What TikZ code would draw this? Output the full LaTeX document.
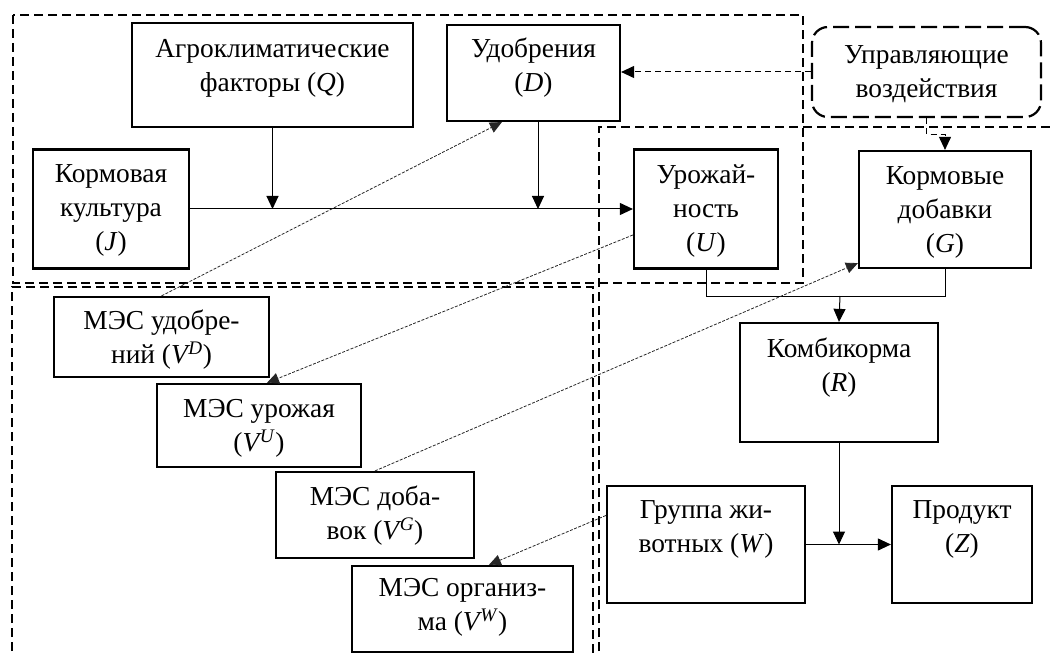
\documentclass[tikz,border=0pt]{standalone}
\usepackage{fontspec}
\setmainfont{Liberation Serif}
\usetikzlibrary{arrows.meta,calc}
\begin{document}
\begin{tikzpicture}[x=1pt,y=-1pt,
  box/.style={draw,line width=2.2pt,rectangle,inner sep=0pt},
  txt/.style={align=center,inner sep=0pt,font=\fontsize{27.4}{34}\selectfont},
  region/.style={line width=2.2pt,dash pattern=on 9pt off 5pt},
  conn/.style={line width=1pt,-{Triangle[length=13pt,width=12pt]}},
  plain/.style={line width=1pt},
  ctrl/.style={line width=1pt,dash pattern=on 6pt off 4pt},
  dotc/.style={line width=0.8pt,dash pattern=on 3pt off 1.5pt,black!85,-{Triangle[length=12pt,width=11pt]}}
]
\useasboundingbox (0,0) rectangle (1055,655);
\clip (0,0) rectangle (1055,655);
% regions
\draw[region] (13,15) rectangle (803,283);
\draw[region] (599,665) -- (599,127) -- (1070,127);
\draw[region] (12,665) -- (12,287) -- (593,287) -- (593,665);
% boxes
\node[box,minimum width=281pt,minimum height=104pt] (Q) at (272.5,75) {};
\node[txt] (Qt) at (272.5,68) {Агроклиматические\\факторы (\textit{Q})};
\node[box,minimum width=173pt,minimum height=96pt] (D) at (533.5,73) {};
\node[txt] (Dt) at (533.5,68) {Удобрения\\(\textit{D})};
\node[box,minimum width=156pt,minimum height=119pt] (J) at (111,209) {};
\node[txt] (Jt) at (111,210) {Кормовая\\культура\\(\textit{J})};
\node[draw,line width=2.2pt,dash pattern=on 16pt off 6pt,rounded corners=16pt,minimum width=229pt,minimum height=90pt] (C) at (926.5,72) {};
\node[txt] (Ct) at (926.5,74) {Управляющие\\воздействия};
\node[box,minimum width=144pt,minimum height=119pt] (U) at (706,209) {};
\node[txt] (Ut) at (706,211) {Урожай-\\ность\\(\textit{U})};
\node[box,minimum width=172pt,minimum height=117pt] (G) at (945,209.5) {};
\node[txt] (Gt) at (945,212) {Кормовые\\добавки\\(\textit{G})};
\node[box,minimum width=198pt,minimum height=119pt] (R) at (839,382.5) {};
\node[txt] (Rt) at (839,368) {Комбикорма\\(\textit{R})};
\node[box,minimum width=198pt,minimum height=117pt] (W) at (706,544.5) {};
\node[txt] (Wt) at (706,529) {Группа жи-\\вотных (\textit{W})};
\node[box,minimum width=140pt,minimum height=117pt] (Z) at (962,544.5) {};
\node[txt] (Zt) at (962,529) {Продукт\\(\textit{Z})};
\node[box,minimum width=215pt,minimum height=80pt] (VD) at (161.5,337) {};
\node[txt] (VDt) at (161.5,340) {МЭС удобре-\\ний (\textit{V}\kern-2pt\textsuperscript{\textit{D}})};
\node[box,minimum width=204pt,minimum height=83pt] (VU) at (259,425.5) {};
\node[txt] (VUt) at (259,428) {МЭС урожая\\(\textit{V}\kern-2pt\textsuperscript{\textit{U}})};
\node[box,minimum width=198pt,minimum height=86pt] (VG) at (375,515) {};
\node[txt] (VGt) at (375,516) {МЭС доба-\\вок (\textit{V}\kern-2pt\textsuperscript{\textit{G}})};
\node[box,minimum width=221pt,minimum height=86pt] (VW) at (462.5,609) {};
\node[txt] (VWt) at (462.5,607) {МЭС организ-\\ма (\textit{V}\kern-2pt\textsuperscript{\textit{W}})};
% solid connectors
\draw[conn] (J.east) -- (J.east -| U.west);
\draw[conn] (Q.south) -- (Q.south |- J.east);
\draw[conn] ([xshift=4.5pt]D.south) -- ([xshift=4.5pt]D.south |- J.east);
\coordinate (m) at (840,296);
\draw[plain] (U.south) |- (m);
\draw[plain] (G.south) |- (m);
\draw[conn] (m) -- (R.north);
\draw[conn] (R.south) -- (R.south |- W.east);
\draw[conn] (W.east) -- (Z.west);
% control connectors
\draw[ctrl,-{Triangle[length=13pt,width=12pt]}] (C.west) -- (D.east |- C.west);
\draw[ctrl,-{Triangle[length=13pt,width=12pt]}] (C.south) -- ++(0,16) -| (G.north);
% dotted connectors
\draw[dotc] (VD.north) -- ([xshift=56pt]D.south west);
\draw[dotc] ([yshift=-26pt]U.west) -- ([xshift=111pt]VU.north west);
\draw[dotc] (VG.north) -- ([yshift=6pt]G.south west);
\draw[dotc] ([yshift=29pt]W.west) -- ([xshift=138pt]VW.north west);
\end{tikzpicture}
\end{document}
